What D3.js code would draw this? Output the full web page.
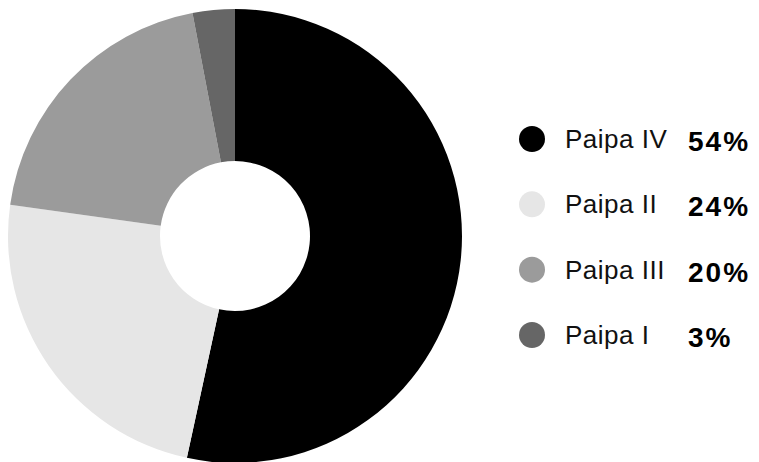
<!DOCTYPE html>
<html lang="en">
<head>
<meta charset="UTF-8">
<title>Paipa</title>
<style>
    body { margin: 0; background: #fff; font-family: "Liberation Sans", Arial, sans-serif; }
    svg { display: block; }
</style>
</head>
<body>
<svg width="759" height="462"></svg>
<script src="https://d3js.org/d3.v7.min.js"></script>
<script>
    // data
    const categories = ["Paipa IV", "Paipa II", "Paipa III", "Paipa I"];
    const values = [53.4, 23.8, 19.8, 3.0];
    const pctLabels = ["54%", "24%", "20%", "3%"];
    const colors = ["#000000", "#e6e6e6", "#9b9b9b", "#666666"];

    const svg = d3.select("svg");
    const cx = 235, cy = 236, outerR = 227, innerR = 75;

    const pie = d3.pie().sort(null).value(d => d)(values);
    const arc = d3.arc().innerRadius(innerR).outerRadius(outerR);

    svg.append("g")
        .attr("transform", `translate(${cx},${cy})`)
        .selectAll("path")
        .data(pie)
        .join("path")
        .attr("d", arc)
        .attr("fill", (d, i) => colors[i]);

    // legend
    const y = d3.scalePoint().domain(categories).range([139, 335]);
    const leg = svg.append("g").selectAll("g")
        .data(categories)
        .join("g")
        .attr("transform", d => `translate(0,${y(d)})`);

    leg.append("circle")
        .attr("cx", 532).attr("r", 13)
        .attr("fill", (d, i) => colors[i]);

    leg.append("text")
        .attr("x", 565).attr("y", 9)
        .attr("font-size", 26)
        .attr("letter-spacing", 0.5)
        .attr("fill", "#111")
        .text(d => d);

    leg.append("text")
        .attr("x", 688).attr("y", 12)
        .attr("font-size", 28)
        .attr("letter-spacing", 2)
        .attr("font-weight", "bold")
        .attr("fill", "#000")
        .text((d, i) => pctLabels[i]);
</script>
</body>
</html>
